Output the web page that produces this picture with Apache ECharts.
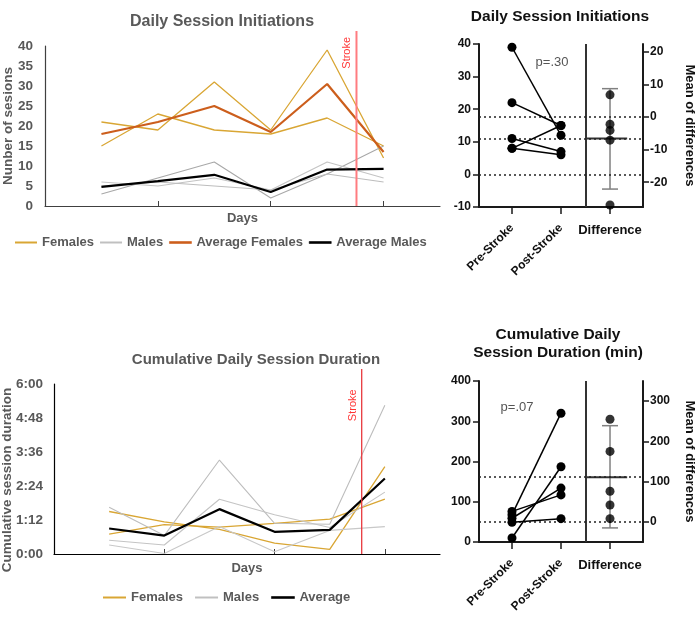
<!DOCTYPE html>
<html><head><meta charset="utf-8">
<script src="https://cdn.jsdelivr.net/npm/echarts@6/dist/echarts.min.js"></script>
<style>html,body{margin:0;padding:0;background:#fff}#c{width:700px;height:620px}</style>
</head><body><div id="c"></div>
<script>
// ===== Daily Session Initiations (days 1-6) =====
const days = [1, 2, 3, 4, 5, 6];
const initFemaleA = [21, 19, 31, 19, 39, 12];
const initFemaleB = [15, 23, 19, 18, 22, 15];
const initMaleA = [3, 7, 11, 2, 8, 15];
const initMaleB = [6, 5, 7, 4, 11, 7];
const initMaleC = [5, 6, 5, 4, 8, 6];
const initAvgFemales = [18, 21, 25, 18.5, 30.5, 13.5];
const initAvgMales = [4.8, 6.2, 7.8, 3.5, 9.1, 9.3];

// ===== Cumulative Daily Session Duration (minutes, days 1-6) =====
const durFemaleA = [90, 68, 52, 23, 10, 185];
const durFemaleB = [42, 62, 57, 65, 74, 116];
const durMaleA = [99, 39, 199, 65, 63, 315];
const durMaleB = [29, 19, 116, 83, 56, 131];
const durMaleC = [19, 1, 58, 5, 50, 58];
const durAvg = [54, 39, 95, 47, 51, 160];
const durTickLabels = ['0:00', '1:12', '2:24', '3:36', '4:48', '6:00'];

// Stroke marker (day position, top value, label value)
const strokeInit = { day: 5.52, top: 43.75, labelDay: 5.36, labelVal: 38.3 };
const strokeDur = { day: 5.58, top: 392, labelDay: 5.42, labelVal: 315 };

// ===== Paired estimation plots =====
const groupLabels = ['Pre-Stroke', 'Post-Stroke', 'Difference'];
const initPre = [39, 22, 8, 11, 8];
const initPost = [12, 15, 15, 7, 6];
const initDiff = [-27, -7.1, 6.8, -4.1, -2.2];
const initMeanDiff = -6.6;
const initCI = [-22.1, 8.7];
const initPreMean = 17.6;

const durPre = [68, 10, 59, 76, 49];
const durPost = [320, 187, 134, 117, 58];
const durDiff = [255, 175, 76, 42, 8];
const durMeanDiff = 111;
const durCI = [-15, 239];
const durPreMean = 50;

const FONT = '"Liberation Sans", Arial, sans-serif';
const GT = '#595959';
const GOLD = '#D9A634';
const ORANGE = '#CC5E1C';

const chart = echarts.init(document.getElementById('c'), null, { renderer: 'canvas' });

function lineSeries(name, vals, color, width, xi, yi, z) {
  return {
    type: 'line', name: name, xAxisIndex: xi, yAxisIndex: yi,
    data: vals.map((v, i) => [days[i], v]),
    symbol: 'none', lineStyle: { color: color, width: width }, itemStyle: { color: color },
    z: z || 2, silent: true
  };
}

const rxMin = 0.327, rxMax = 3.673;

function pairedPanel(g, xi, yiL, yiR, pre, post, diff, mean, ci, leftZeroLine) {
  const s = [];
  for (let i = 0; i < pre.length; i++) {
    const ser = {
      type: 'line', xAxisIndex: xi, yAxisIndex: yiL,
      data: [[1, pre[i]], [2, post[i]]],
      symbol: 'circle', symbolSize: 9, showSymbol: true,
      itemStyle: { color: '#000' }, lineStyle: { color: '#000', width: 1.5 }, z: 5, silent: true
    };
    if (i === 0) {
      const md = [{ xAxis: 2.5, lineStyle: { type: 'solid', width: 2, color: '#333' } }];
      if (leftZeroLine) md.push({ yAxis: 0 });
      ser.markLine = {
        silent: true, symbol: 'none', label: { show: false },
        lineStyle: { type: [2, 3], color: '#222', width: 1.5 }, data: md
      };
    }
    s.push(ser);
  }
  s.push({
    type: 'scatter', xAxisIndex: xi, yAxisIndex: yiR,
    data: diff.map(d => [3, d]), symbolSize: 9, itemStyle: { color: '#000' }, z: 6, silent: true,
    markLine: {
      silent: true, symbol: 'none', label: { show: false },
      lineStyle: { type: [2, 3], color: '#222', width: 1.5 },
      data: [{ yAxis: 0 }, { yAxis: mean }]
    }
  });
  s.push({
    type: 'line', xAxisIndex: xi, yAxisIndex: yiR,
    data: [[2.53, mean], [3.35, mean]], symbol: 'none',
    lineStyle: { color: '#333', width: 2 }, z: 4, silent: true
  });
  s.push({
    type: 'custom', xAxisIndex: xi, yAxisIndex: yiR,
    data: [[3, ci[0], ci[1]]], encode: { x: 0, y: [1, 2] }, z: 3, silent: true,
    renderItem: function (params, api) {
      const x = api.value(0);
      const a = api.coord([x, api.value(1)]);
      const b = api.coord([x, api.value(2)]);
      const w = 8;
      const st = { stroke: '#808080', lineWidth: 1.5 };
      return {
        type: 'group', children: [
          { type: 'line', shape: { x1: a[0], y1: a[1], x2: b[0], y2: b[1] }, style: st },
          { type: 'line', shape: { x1: a[0] - w, y1: a[1], x2: a[0] + w, y2: a[1] }, style: st },
          { type: 'line', shape: { x1: b[0] - w, y1: b[1], x2: b[0] + w, y2: b[1] }, style: st }
        ]
      };
    }
  });
  return s;
}

function pairedXAxes(g) {
  return [
    {
      gridIndex: g, type: 'value', min: rxMin, max: rxMax, position: 'bottom',
      axisLine: { show: true, onZero: false, lineStyle: { color: '#1a1a1a', width: 2 } },
      axisTick: { show: true, customValues: [1, 2, 3], length: 7, lineStyle: { color: '#1a1a1a', width: 1.5 } },
      axisLabel: {
        show: true, customValues: [1, 2], rotate: 45, margin: 19,
        formatter: v => groupLabels[Math.round(v) - 1],
        fontWeight: 'bold', fontSize: 12, color: '#111', fontFamily: FONT
      },
      splitLine: { show: false }
    },
    {
      gridIndex: g, type: 'value', min: rxMin, max: rxMax, position: 'bottom',
      axisLine: { show: false, onZero: false }, axisTick: { show: false },
      axisLabel: {
        show: true, customValues: [3], margin: 17,
        formatter: v => groupLabels[Math.round(v) - 1],
        fontWeight: 'bold', fontSize: 13, color: '#111', fontFamily: FONT
      },
      splitLine: { show: false }
    }
  ];
}

function pairedYAxes(g, lmin, lmax, linterval, offset, rTicks) {
  return [
    {
      gridIndex: g, type: 'value', min: lmin, max: lmax, interval: linterval, position: 'left',
      axisLine: { show: true, onZero: false, lineStyle: { color: '#1a1a1a', width: 2 } },
      axisTick: { show: true, length: 6, lineStyle: { color: '#1a1a1a', width: 1.5 } },
      axisLabel: { margin: 8, fontWeight: 'bold', fontSize: 12, color: '#111', fontFamily: FONT },
      splitLine: { show: false }
    },
    {
      gridIndex: g, type: 'value', min: lmin - offset, max: lmax - offset, position: 'right',
      axisLine: { show: true, onZero: false, lineStyle: { color: '#1a1a1a', width: 2 } },
      axisTick: { show: true, customValues: rTicks, length: 6, lineStyle: { color: '#1a1a1a', width: 1.5 } },
      axisLabel: { show: true, customValues: rTicks, margin: 7, fontWeight: 'bold', fontSize: 12, color: '#111', fontFamily: FONT },
      splitLine: { show: false },
      name: 'Mean of differences', nameLocation: 'middle', nameRotate: -90, nameGap: 40, nameMoveOverlap: false,
      nameTextStyle: { fontWeight: 'bold', fontSize: 13, color: '#111', fontFamily: FONT }
    }
  ];
}

const xAxes = [
  {
    gridIndex: 0, type: 'value', min: 0, max: 7,
    axisLine: { show: true, onZero: false, lineStyle: { color: '#404040', width: 1.2 } },
    axisTick: { show: true, customValues: [2, 4, 6], inside: true, length: 5, lineStyle: { color: '#404040' } },
    axisLabel: { show: false }, splitLine: { show: false },
    name: 'Days', nameLocation: 'middle', nameGap: 6,
    nameTextStyle: { fontWeight: 'bold', fontSize: 13, color: GT, fontFamily: FONT }
  },
  ...pairedXAxes(1),
  {
    gridIndex: 2, type: 'value', min: 0, max: 7,
    axisLine: { show: true, onZero: false, lineStyle: { color: '#000', width: 1.2 } },
    axisTick: { show: true, customValues: [2, 4, 6], inside: true, length: 5, lineStyle: { color: '#404040' } },
    axisLabel: { show: false }, splitLine: { show: false },
    name: 'Days', nameLocation: 'middle', nameGap: 8,
    nameTextStyle: { fontWeight: 'bold', fontSize: 13, color: GT, fontFamily: FONT }
  },
  ...pairedXAxes(3)
];

const yAxes = [
  {
    gridIndex: 0, type: 'value', min: 0, max: 40, interval: 5,
    axisLine: { show: true, onZero: false, lineStyle: { color: '#404040', width: 1.2 } },
    axisTick: { show: false }, splitLine: { show: false },
    axisLabel: { margin: 12, fontWeight: 'bold', fontSize: 13.5, color: GT, fontFamily: FONT },
    name: 'Nunber of sesions', nameLocation: 'middle', nameRotate: 90, nameGap: 30, nameMoveOverlap: false,
    nameTextStyle: { fontWeight: 'bold', fontSize: 13.5, color: GT, fontFamily: FONT }
  },
  ...pairedYAxes(1, -10, 40, 10, initPreMean, [-20, -10, 0, 10, 20]),
  {
    gridIndex: 2, type: 'value', min: 0, max: 360, interval: 72,
    axisLine: { show: true, onZero: false, lineStyle: { color: '#000', width: 1.2 } },
    axisTick: { show: false }, splitLine: { show: false },
    axisLabel: {
      margin: 11, fontWeight: 'bold', fontSize: 13.5, color: GT, fontFamily: FONT,
      formatter: v => durTickLabels[Math.round(v / 72)]
    },
    name: 'Cumulative session duration', nameLocation: 'middle', nameRotate: 90, nameGap: 39.5, nameMoveOverlap: false,
    nameTextStyle: { fontWeight: 'bold', fontSize: 13.5, color: GT, fontFamily: FONT, padding: [0, 22, 0, 0] }
  },
  ...pairedYAxes(3, 0, 400, 100, durPreMean, [0, 100, 200, 300])
];

const series = [
  lineSeries('Females', initFemaleA, GOLD, 1.3, 0, 0),
  lineSeries('Females', initFemaleB, GOLD, 1.3, 0, 0),
  lineSeries('Males', initMaleA, '#A8A8A8', 1.1, 0, 0),
  lineSeries('Males', initMaleB, '#C4C4C4', 1.1, 0, 0),
  lineSeries('Males', initMaleC, '#BDBDBD', 1.1, 0, 0),
  lineSeries('Average Females', initAvgFemales, ORANGE, 2.2, 0, 0, 3),
  lineSeries('Average Males', initAvgMales, '#000', 2.2, 0, 0, 3),
  {
    type: 'line', xAxisIndex: 0, yAxisIndex: 0, clip: false, silent: true,
    data: [[strokeInit.day, 0], [strokeInit.day, strokeInit.top]], symbol: 'none',
    lineStyle: { color: '#FF7C80', width: 2 }, z: 4
  },
  {
    type: 'scatter', xAxisIndex: 0, yAxisIndex: 0, silent: true, symbolSize: 0,
    data: [[strokeInit.labelDay, strokeInit.labelVal]],
    label: { show: true, formatter: 'Stroke', rotate: 90, position: 'inside', color: '#FF0000', fontSize: 11, fontFamily: FONT }
  },
  lineSeries('Females', durFemaleA, GOLD, 1.3, 3, 3),
  lineSeries('Females', durFemaleB, GOLD, 1.3, 3, 3),
  lineSeries('Males', durMaleA, '#BDBDBD', 1.1, 3, 3),
  lineSeries('Males', durMaleB, '#C4C4C4', 1.1, 3, 3),
  lineSeries('Males', durMaleC, '#C8C8C8', 1.1, 3, 3),
  lineSeries('Average', durAvg, '#000', 2.2, 3, 3, 3),
  {
    type: 'line', xAxisIndex: 3, yAxisIndex: 3, clip: false, silent: true,
    data: [[strokeDur.day, 0], [strokeDur.day, strokeDur.top]], symbol: 'none',
    lineStyle: { color: '#E8383D', width: 1.3 }, z: 4
  },
  {
    type: 'scatter', xAxisIndex: 3, yAxisIndex: 3, silent: true, symbolSize: 0,
    data: [[strokeDur.labelDay, strokeDur.labelVal]],
    label: { show: true, formatter: 'Stroke', rotate: 90, position: 'inside', color: '#FF0000', fontSize: 11, fontFamily: FONT }
  },
  ...pairedPanel(1, 1, 1, 2, initPre, initPost, initDiff, initMeanDiff, initCI, true),
  ...pairedPanel(3, 4, 4, 5, durPre, durPost, durDiff, durMeanDiff, durCI, false)
];

function txt(x, y, text, font, fill) {
  return {
    type: 'text', x: x, y: y, silent: true,
    style: { text: text, font: font, fill: fill, align: 'center', verticalAlign: 'middle', textAlign: 'center', textVerticalAlign: 'middle' }
  };
}

const legendText = { fontWeight: 'bold', fontSize: 13, color: GT, fontFamily: FONT };
function legItem(name, color, thick) {
  const it = { name: name, icon: 'rect', itemStyle: { color: color, borderWidth: 0 } };
  if (thick) it.itemStyle = { color: color, borderColor: color, borderWidth: 0.6 };
  return it;
}

chart.setOption({
  animation: false,
  backgroundColor: '#fff',
  textStyle: { fontFamily: FONT },
  grid: [
    { left: 45, top: 46, width: 395, height: 160, containLabel: false, outerBoundsMode: 'none' },
    { left: 479, top: 44, width: 164, height: 163, containLabel: false, outerBoundsMode: 'none' },
    { left: 54, top: 384, width: 386, height: 170, containLabel: false, outerBoundsMode: 'none' },
    { left: 479, top: 381, width: 164, height: 161, containLabel: false, outerBoundsMode: 'none' }
  ],
  xAxis: xAxes,
  yAxis: yAxes,
  legend: [
    {
      left: 15, top: 236, padding: 0, itemWidth: 22, itemHeight: 2, itemGap: 6, textStyle: legendText,
      selectedMode: false,
      data: [
        legItem('Females', GOLD, false),
        legItem('Males', '#C0C0C0', false),
        legItem('Average Females', ORANGE, true),
        legItem('Average Males', '#000', true)
      ]
    },
    {
      left: 103, top: 591, padding: 0, itemWidth: 23, itemHeight: 2, itemGap: 12, textStyle: legendText,
      selectedMode: false,
      data: [
        legItem('Females', GOLD, false),
        legItem('Males', '#C0C0C0', false),
        legItem('Average', '#000', true)
      ]
    }
  ],
  graphic: [
    txt(222, 22, 'Daily Session Initiations', 'bold 16px ' + FONT, GT),
    txt(256, 360, 'Cumulative Daily Session Duration', 'bold 15px ' + FONT, GT),
    txt(560, 17, 'Daily Session Initiations', 'bold 15.5px ' + FONT, '#111'),
    txt(558, 335, 'Cumulative Daily', 'bold 15.5px ' + FONT, '#111'),
    txt(558, 353, 'Session Duration (min)', 'bold 15.5px ' + FONT, '#111'),
    txt(552, 62, 'p=.30', '13px ' + FONT, '#555'),
    txt(517, 407, 'p=.07', '13px ' + FONT, '#555')
  ],
  series: series
});
</script>
</body></html>
